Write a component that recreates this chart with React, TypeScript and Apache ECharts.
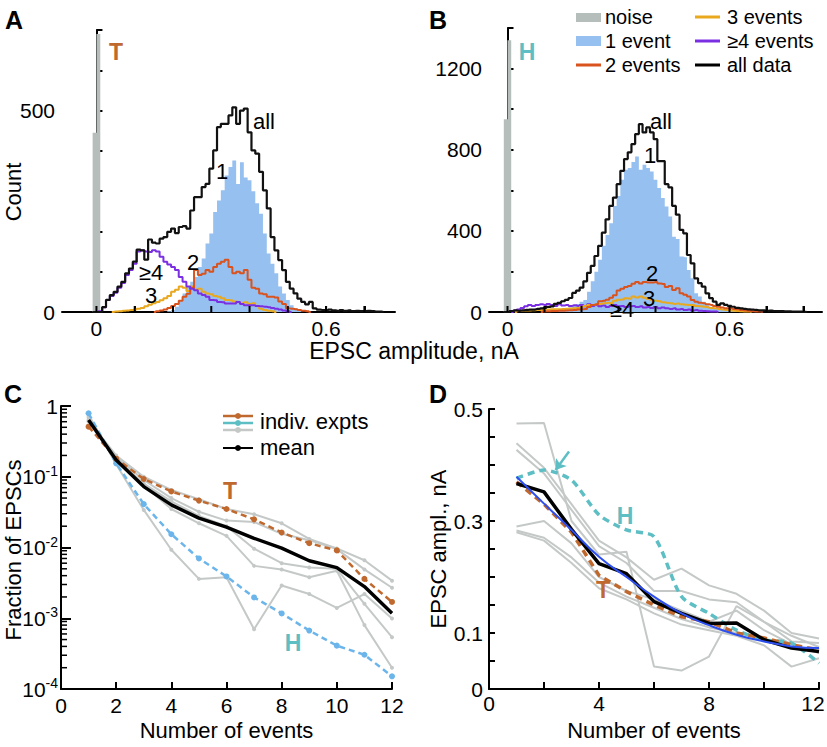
import React, { useEffect, useRef } from "react";
import * as echarts from "echarts";

const FONT = '"Liberation Sans", Arial, Helvetica, sans-serif';
const BIN = 0.01;

// ---------- Panel A (T) histograms: counts per 0.01 nA bin, first bin index = start ----------
const aNoiseCentres = [-0.005, 0.005];
const aNoiseCounts = [445, 690];
const aAllStart = 0;
const aAllCounts = [0, 0, 12, 30, 42, 50, 63, 75, 96, 108, 125, 155, 153, 130, 180, 172, 170, 182, 186, 199, 207, 196, 211, 213, 207, 252, 285, 285, 310, 318, 356, 401, 459, 467, 467, 488, 508, 467, 500, 505, 446, 401, 393, 348, 302, 257, 186, 153, 129, 104, 75, 58, 46, 33, 25, 19, 25, 9, 6, 5, 4, 6, 4, 3, 5, 3, 4, 2, 3, 2, 2, 3, 2, 1, 1];
const aOneStart = 19;
const aOneCounts = [2, 5, 13, 30, 46, 63, 75, 87, 112, 133, 170, 195, 248, 277, 302, 339, 360, 376, 318, 372, 334, 327, 300, 270, 244, 195, 145, 120, 96, 63, 46, 30, 17, 9, 4];
const aTwoStart = 16;
const aTwoCounts = [2, 4, 6, 10, 15, 20, 28, 38, 45, 60, 104, 92, 95, 104, 100, 112, 120, 125, 130, 112, 96, 100, 96, 104, 80, 60, 58, 46, 44, 38, 38, 36, 26, 20, 9, 8, 7, 5, 3, 2];
const aThreeStart = 5;
const aThreeCounts = [1, 2, 3, 4, 5, 6, 8, 10, 14, 18, 22, 25, 29, 34, 40, 50, 55, 63, 60, 52, 63, 56, 58, 50, 46, 44, 40, 38, 34, 30, 29, 26, 25, 22, 24, 20, 22, 15, 8, 5, 3, 2];
const aFourStart = 1;
const aFourCounts = [2, 12, 30, 40, 48, 60, 72, 92, 104, 120, 150, 153, 150, 149, 153, 150, 137, 125, 118, 112, 104, 87, 75, 63, 58, 54, 46, 42, 38, 30, 29, 25, 24, 21, 21, 21, 25, 20, 17, 17, 17, 15, 14, 13, 12, 10, 8, 6, 4, 2];

// ---------- Panel B (H) ----------
const bNoiseCentres = [-0.005, 0.005];
const bNoiseCounts = [950, 1340];
const bAllStart = 0;
const bAllCounts = [0, 5, 8, 6, 8, 10, 12, 12, 15, 18, 20, 25, 28, 40, 45, 53, 60, 69, 94, 105, 120, 151, 193, 227, 276, 326, 391, 457, 523, 564, 630, 696, 754, 787, 828, 877, 926, 885, 910, 885, 852, 744, 744, 630, 614, 523, 480, 405, 388, 281, 240, 166, 142, 125, 92, 68, 51, 35, 43, 35, 30, 26, 20, 18, 15, 13, 12, 10, 8, 8, 6, 7, 5, 4, 4, 3, 3, 2, 2, 2, 1];
const bOneStart = 10;
const bOneCounts = [2, 3, 4, 5, 8, 10, 15, 22, 30, 40, 50, 59, 100, 151, 198, 257, 326, 380, 437, 523, 572, 652, 701, 710, 740, 767, 701, 726, 710, 693, 652, 611, 562, 520, 471, 371, 360, 273, 270, 207, 166, 92, 76, 51, 35, 26, 20, 15, 12, 10, 8, 6, 4, 3, 2];
const bTwoStart = 10;
const bTwoCounts = [4, 4, 5, 5, 6, 6, 8, 9, 10, 12, 13, 15, 25, 35, 38, 53, 55, 60, 70, 82, 106, 115, 123, 128, 139, 148, 140, 148, 145, 145, 148, 140, 138, 123, 128, 109, 117, 92, 85, 76, 59, 51, 45, 43, 38, 35, 30, 26, 22, 18, 18, 15, 13, 10, 8, 6, 4, 3, 2];
const bThreeStart = 3;
const bThreeCounts = [5, 6, 7, 8, 9, 10, 10, 12, 12, 13, 13, 14, 15, 16, 17, 18, 20, 25, 30, 35, 35, 38, 40, 43, 45, 43, 55, 60, 62, 68, 65, 76, 72, 76, 70, 65, 60, 55, 53, 48, 45, 43, 40, 42, 38, 36, 35, 35, 30, 28, 26, 24, 20, 18, 15, 12, 10, 8, 6, 5, 4, 3, 2];
const bFourStart = 2;
const bFourCounts = [8, 12, 20, 28, 35, 30, 35, 38, 35, 40, 35, 30, 38, 32, 35, 30, 33, 30, 35, 28, 38, 30, 35, 28, 32, 25, 30, 35, 28, 30, 25, 28, 30, 25, 28, 22, 25, 20, 25, 18, 22, 18, 15, 18, 12, 15, 10, 12, 8, 10, 6, 5, 4, 3, 2];

// Axis ticks / labels for A and B
const aTickValues = [0, 0.1, 0.2, 0.3, 0.4, 0.5, 0.6, 0.7];
const bTickValues = [0, 0.1, 0.2, 0.3, 0.4, 0.5, 0.6, 0.7, 0.8];
const abLabelValues = [0, 0.6];
const aYLabels = [0, 500];
const bYLabels = [0, 400, 800, 1200];

// ---------- Panel C: fraction of EPSCs vs number of events ----------
const events = [1, 2, 3, 4, 5, 6, 7, 8, 9, 10, 11, 12];
const cT = [0.51, 0.18, 0.093, 0.062, 0.046, 0.035, 0.025, 0.0163, 0.0115, 0.0091, 0.0036, 0.0017];
const cH = [0.79, 0.155, 0.041, 0.0154, 0.007, 0.0039, 0.00197, 0.00117, 0.00067, 0.00041, 0.000305, 0.000151];
const cMean = [0.634, 0.173, 0.0726, 0.04, 0.026, 0.0194, 0.0135, 0.0098, 0.0065, 0.0052, 0.0028, 0.00118];
const cGray1 = [0.62, 0.2, 0.1, 0.065, 0.048, 0.035, 0.0296, 0.022, 0.0132, 0.0097, 0.0066, 0.0034];
const cGray2 = [0.6, 0.19, 0.09, 0.05, 0.032, 0.024, 0.023, 0.0156, 0.0127, 0.0095, 0.0049, 0.0027];
const cGray3 = [0.65, 0.18, 0.08, 0.045, 0.028, 0.02, 0.0096, 0.006, 0.0052, 0.005, 0.0016, 0.00054];
const cGray4 = [0.7, 0.17, 0.075, 0.035, 0.022, 0.0146, 0.0055, 0.0049, 0.0038, 0.0047, 0.0008, 0.0002];
const cGray5 = [0.75, 0.15, 0.034, 0.0093, 0.0036, 0.0038, 0.0007, 0.0029, 0.0022, 0.0014, 0.0022, 0.00099];
const cMinorMantissas = [2, 3, 4, 5, 6, 7, 8, 9];
const cDecades = [-4, -3, -2, -1];

// ---------- Panel D: EPSC amplitude vs number of events ----------
const dT = [0.37, 0.33, 0.28, 0.203, 0.174, 0.15, 0.129, 0.12, 0.1, 0.091, 0.079, 0.07];
const dH = [0.376, 0.391, 0.373, 0.311, 0.284, 0.272, 0.165, 0.135, 0.105, 0.088, 0.082, 0.046];
const dMean = [0.367, 0.352, 0.285, 0.224, 0.206, 0.156, 0.135, 0.117, 0.118, 0.088, 0.073, 0.067];
const dFit = [0.379, 0.331, 0.284, 0.236, 0.2, 0.165, 0.135, 0.114, 0.097, 0.085, 0.076, 0.073];
const dGray1 = [0.474, 0.475, 0.3, 0.24, 0.245, 0.04, 0.033, 0.058, 0.148, 0.12, 0.085, 0.082];
const dGray2 = [0.439, 0.395, 0.33, 0.265, 0.235, 0.195, 0.215, 0.185, 0.17, 0.14, 0.1, 0.09];
const dGray3 = [0.427, 0.385, 0.32, 0.255, 0.225, 0.175, 0.175, 0.16, 0.155, 0.12, 0.095, 0.075];
const dGray4 = [0.29, 0.3, 0.26, 0.2, 0.175, 0.16, 0.14, 0.12, 0.14, 0.105, 0.08, 0.064];
const dGray5 = [0.283, 0.27, 0.235, 0.19, 0.165, 0.145, 0.125, 0.11, 0.1, 0.09, 0.075, 0.065];
const dGray6 = [0.28, 0.265, 0.225, 0.18, 0.16, 0.135, 0.115, 0.105, 0.095, 0.078, 0.04, 0.055];
const dArrow = [[2.91, 0.424], [2.42, 0.391]];
const dYLabels = [0, 0.1, 0.3, 0.5];

const C_GRAY_NOISE = "#b6bebb";
const C_ONE = "#96c0f0";
const C_TWO = "#d9531e";
const C_THREE = "#e9a81e";
const C_FOUR = "#7a2fe3";
const C_T = "#c0692f";
const C_H = "#5dbec4";
const C_HLINE = "#6bb5ea";
const C_GRAY = "#c4c9c7";
const C_FIT = "#2d4ff0";

function histData(start: number, counts: number[]) {
  const d: number[][] = [[+((start - 1) * BIN).toFixed(3), 0]];
  counts.forEach((c, i) => d.push([+((start + i) * BIN).toFixed(3), c]));
  d.push([+((start + counts.length) * BIN).toFixed(3), 0]);
  return d;
}
function noiseData(centres: number[], counts: number[]) {
  const d: number[][] = [[centres[0] - BIN, 0]];
  centres.forEach((c, i) => d.push([c, counts[i]]));
  d.push([centres[centres.length - 1] + BIN, 0]);
  return d;
}
const pair = (ys: number[]) => events.map((x, i) => [x, ys[i]]);

const axisLine = { lineStyle: { color: "#000", width: 2 } };
const tickStyle = { inside: true, length: 6, lineStyle: { color: "#000", width: 2 } };
const labelBase = { color: "#000", fontSize: 21, fontFamily: FONT };
const nameStyle = { color: "#000", fontSize: 22, fontFamily: FONT };
const near = (v: number, list: number[]) => list.some((t) => Math.abs(v - t) < 1e-6);

function stepLine(ax: number, data: number[][], color: string, width: number, z: number) {
  return {
    type: "line", xAxisIndex: ax, yAxisIndex: ax, data, step: "middle", symbol: "none",
    lineStyle: { color, width }, itemStyle: { color }, z, silent: true,
  };
}
function stepFill(ax: number, data: number[][], color: string, z: number) {
  return {
    type: "line", xAxisIndex: ax, yAxisIndex: ax, data, step: "middle", symbol: "none",
    lineStyle: { width: 0, color }, itemStyle: { color }, areaStyle: { color, opacity: 1 }, z, silent: true,
  };
}
// inside ticks drawn through the axis scale (x axis: upward; y axis: rightward)
function tickSeries(ax: number, points: number[][], dx: number, dy: number, width: number) {
  return {
    type: "custom", xAxisIndex: ax, yAxisIndex: ax, data: points, silent: true, clip: false, z: 10,
    renderItem: (_p: any, api: any) => {
      const pt = api.coord([api.value(0), api.value(1)]);
      return { type: "line", shape: { x1: pt[0], y1: pt[1], x2: pt[0] + dx, y2: pt[1] + dy }, style: { stroke: "#000", lineWidth: width } };
    },
  };
}

function txt(text: string, x: number, y: number, size: number, bold = false, fill = "#000", align = "center") {
  return {
    type: "text", z: 100,
    style: {
      text, x, y, font: `${bold ? "bold " : ""}${size}px ${FONT}`, lineHeight: size,
      fill, textAlign: align, textVerticalAlign: "middle",
    },
  };
}
function vtxt(text: string, cx: number, cy: number, size: number) {
  return {
    type: "text", x: cx, y: cy, rotation: Math.PI / 2, z: 100,
    style: { text, x: 0, y: 0, font: `${size}px ${FONT}`, lineHeight: size, fill: "#000", textAlign: "center", textVerticalAlign: "middle" },
  };
}

export default function App() {
  const ref = useRef<HTMLDivElement>(null);
  useEffect(() => {
    if (!ref.current) return;
    const chart = echarts.init(ref.current, undefined, { renderer: "svg" });

    const cMinor: number[][] = [];
    cDecades.forEach((d) => cMinorMantissas.forEach((m) => cMinor.push([0, m * Math.pow(10, d)])));

    const grayC = [cGray1, cGray2, cGray3, cGray4, cGray5].map((g) => ({
      type: "line", xAxisIndex: 2, yAxisIndex: 2, data: pair(g), symbol: "circle", symbolSize: 4,
      lineStyle: { color: C_GRAY, width: 2 }, itemStyle: { color: C_GRAY }, z: 2, silent: true,
    }));
    const grayD = [dGray1, dGray2, dGray3, dGray4, dGray5, dGray6].map((g) => ({
      type: "line", xAxisIndex: 3, yAxisIndex: 3, data: pair(g), symbol: "none",
      lineStyle: { color: C_GRAY, width: 2 }, itemStyle: { color: C_GRAY }, z: 2, silent: true,
    }));

    const gridBase = { outerBoundsMode: "none", containLabel: false };
    const labelFmt = (v: number) => (v === 0 ? "0" : v.toFixed(1));
    const lgFont = 20;
    const rows = [17, 41, 65];

    const option: any = {
      animation: false,
      grid: [
        { ...gridBase, left: 62, top: 30, width: 333, height: 282 },
        { ...gridBase, left: 489, top: 28, width: 333, height: 284 },
        { ...gridBase, left: 61, top: 406, width: 331, height: 283 },
        { ...gridBase, left: 489, top: 409, width: 330, height: 280 },
      ],
      xAxis: [
        {
          gridIndex: 0, type: "value", min: -0.09, max: 0.78, axisLine, splitLine: { show: false },
          axisTick: { ...tickStyle, customValues: aTickValues },
          axisLabel: { ...labelBase, margin: 6, customValues: abLabelValues, formatter: labelFmt },
        },
        {
          gridIndex: 1, type: "value", min: -0.05, max: 0.85, axisLine, splitLine: { show: false },
          axisTick: { ...tickStyle, customValues: bTickValues },
          axisLabel: { ...labelBase, margin: 6, customValues: abLabelValues, formatter: labelFmt },
        },
        {
          gridIndex: 2, type: "value", min: 0, max: 12, interval: 2, axisLine, splitLine: { show: false },
          axisTick: { ...tickStyle, length: 7 }, axisLabel: { ...labelBase, margin: 6 },
          name: "Number of events", nameLocation: "middle", nameGap: 30, nameTextStyle: nameStyle,
        },
        {
          gridIndex: 3, type: "value", min: 0, max: 12, interval: 2, axisLine, splitLine: { show: false },
          axisTick: { ...tickStyle, length: 7 },
          axisLabel: {
            ...labelBase, margin: 4,
            formatter: (v: number) => (v % 4 === 0 ? (v === 12 ? "{r|12}" : String(v)) : ""),
            rich: { r: { fontSize: 21, fontFamily: FONT, color: "#000", padding: [0, 12, 0, 0] } },
          },
          name: "Number of events", nameLocation: "middle", nameGap: 30, nameTextStyle: nameStyle,
        },
      ],
      yAxis: [
        {
          gridIndex: 0, type: "value", min: 0, max: 700, interval: 100, axisLine, splitLine: { show: false },
          axisTick: tickStyle,
          axisLabel: { ...labelBase, margin: 7, formatter: (v: number) => (near(v, aYLabels) ? String(v) : "") },
        },
        {
          gridIndex: 1, type: "value", min: 0, max: 1400, interval: 200, axisLine, splitLine: { show: false },
          axisTick: tickStyle,
          axisLabel: { ...labelBase, margin: 7, formatter: (v: number) => (near(v, bYLabels) ? String(v) : "") },
        },
        {
          gridIndex: 2, type: "log", logBase: 10, min: 0.0001, max: 1, axisLine, splitLine: { show: false },
          axisTick: { ...tickStyle, length: 10 },
          axisLabel: {
            ...labelBase, margin: 3,
            formatter: (v: number) => {
              const e = Math.round(Math.log10(v));
              return e === 0 ? "{b|1}" : `{b|10}{s|${e}}`;
            },
            rich: {
              b: { fontSize: 21, fontFamily: FONT, color: "#000", lineHeight: 26 },
              s: { fontSize: 14, fontFamily: FONT, color: "#000", verticalAlign: "top", lineHeight: 14 },
            },
          },
        },
        {
          gridIndex: 3, type: "value", min: 0, max: 0.5, interval: 0.05, axisLine, splitLine: { show: false },
          axisTick: tickStyle,
          axisLabel: { ...labelBase, margin: 6, formatter: (v: number) => (near(v, dYLabels) ? (v === 0 ? "0" : v.toFixed(1)) : "") },
          name: "EPSC ampl., nA", nameLocation: "middle", nameGap: 40, nameTextStyle: nameStyle,
        },
      ],
      series: [
        // Panel A
        stepFill(0, noiseData(aNoiseCentres, aNoiseCounts), C_GRAY_NOISE, 2),
        stepFill(0, histData(aOneStart, aOneCounts), C_ONE, 3),
        stepLine(0, histData(aThreeStart, aThreeCounts), C_THREE, 2, 4),
        stepLine(0, histData(aTwoStart, aTwoCounts), C_TWO, 2, 5),
        stepLine(0, histData(aFourStart, aFourCounts), C_FOUR, 2, 6),
        stepLine(0, histData(aAllStart, aAllCounts), "#111", 2.2, 7),
        tickSeries(0, aTickValues.map((v) => [v, 0]), 0, -6, 2),
        // Panel B
        stepFill(1, noiseData(bNoiseCentres, bNoiseCounts), C_GRAY_NOISE, 2),
        stepFill(1, histData(bOneStart, bOneCounts), C_ONE, 3),
        stepLine(1, histData(bFourStart, bFourCounts), C_FOUR, 2, 4),
        stepLine(1, histData(bThreeStart, bThreeCounts), C_THREE, 2, 5),
        stepLine(1, histData(bTwoStart, bTwoCounts), C_TWO, 2, 6),
        stepLine(1, histData(bAllStart, bAllCounts), "#111", 2.2, 7),
        tickSeries(1, bTickValues.map((v) => [v, 0]), 0, -6, 2),
        // Panel C
        tickSeries(2, cMinor, 6, 0, 1.5),
        ...grayC,
        {
          type: "line", xAxisIndex: 2, yAxisIndex: 2, data: pair(cH), symbol: "circle", symbolSize: 6,
          lineStyle: { color: C_HLINE, width: 2.5, type: [6, 4] }, itemStyle: { color: C_HLINE }, z: 3, silent: true,
        },
        {
          type: "line", xAxisIndex: 2, yAxisIndex: 2, data: pair(cT), symbol: "circle", symbolSize: 6,
          lineStyle: { color: C_T, width: 2.5, type: [6, 4] }, itemStyle: { color: C_T }, z: 4, silent: true,
        },
        {
          type: "line", xAxisIndex: 2, yAxisIndex: 2, data: pair(cMean), symbol: "none",
          lineStyle: { color: "#000", width: 3.5 }, itemStyle: { color: "#000" }, z: 5, silent: true,
        },
        // Panel D
        ...grayD,
        {
          type: "line", xAxisIndex: 3, yAxisIndex: 3, data: pair(dH), symbol: "none", smooth: 0.25,
          lineStyle: { color: C_H, width: 3.5, type: [7, 5] }, itemStyle: { color: C_H }, z: 3, silent: true,
          markLine: {
            silent: true, symbol: ["none", "arrow"], symbolSize: 10, label: { show: false },
            lineStyle: { color: C_H, width: 2.5, type: "solid" },
            data: [[{ coord: dArrow[0] }, { coord: dArrow[1] }]],
          },
        },
        {
          type: "line", xAxisIndex: 3, yAxisIndex: 3, data: pair(dT), symbol: "none",
          lineStyle: { color: C_T, width: 3.5, type: [7, 5] }, itemStyle: { color: C_T }, z: 4, silent: true,
        },
        {
          type: "line", xAxisIndex: 3, yAxisIndex: 3, data: pair(dMean), symbol: "none",
          lineStyle: { color: "#000", width: 3.5 }, itemStyle: { color: "#000" }, z: 5, silent: true,
        },
        {
          type: "line", xAxisIndex: 3, yAxisIndex: 3, data: pair(dFit), symbol: "none", smooth: true,
          lineStyle: { color: C_FIT, width: 2 }, itemStyle: { color: C_FIT }, z: 6, silent: true,
        },
      ],
      graphic: [
        // panel letters
        txt("A", 14, 20, 25, true),
        txt("B", 438, 20, 25, true),
        txt("C", 13, 394, 25, true),
        txt("D", 438, 394, 25, true),
        // axis names
        vtxt("Count", 13, 192, 22),
        vtxt("Fraction of EPSCs", 13, 550, 22),
        txt("EPSC amplitude, nA", 414, 351, 23),
        // Panel A annotations
        txt("T", 116, 52, 23, true, C_T),
        txt("all", 264, 121, 22),
        txt("1", 222, 171, 22),
        txt("≥4", 151, 272, 22),
        txt("2", 193, 262, 22),
        txt("3", 151, 295, 22),
        // Panel B annotations
        txt("H", 527, 52, 23, true, C_H),
        txt("all", 661, 121, 22),
        txt("1", 650, 155, 22),
        txt("2", 652, 273, 22),
        txt("3", 649, 298, 22),
        txt("≥4", 622, 309, 22),
        // Panel B legend
        { type: "rect", shape: { x: 576, y: rows[0] - 4, width: 25, height: 9 }, style: { fill: C_GRAY_NOISE } },
        { type: "rect", shape: { x: 576, y: rows[1] - 5, width: 25, height: 10 }, style: { fill: C_ONE } },
        { type: "line", shape: { x1: 576, y1: rows[2], x2: 601, y2: rows[2] }, style: { stroke: C_TWO, lineWidth: 3 } },
        { type: "line", shape: { x1: 695, y1: rows[0], x2: 720, y2: rows[0] }, style: { stroke: C_THREE, lineWidth: 3 } },
        { type: "line", shape: { x1: 695, y1: rows[1], x2: 720, y2: rows[1] }, style: { stroke: C_FOUR, lineWidth: 3 } },
        { type: "line", shape: { x1: 695, y1: rows[2], x2: 720, y2: rows[2] }, style: { stroke: "#000", lineWidth: 3 } },
        txt("noise", 605, rows[0], lgFont, false, "#000", "left"),
        txt("1 event", 605, rows[1], lgFont, false, "#000", "left"),
        txt("2 events", 605, rows[2], lgFont, false, "#000", "left"),
        txt("3 events", 727, rows[0], lgFont, false, "#000", "left"),
        txt("≥4 events", 727, rows[1], lgFont, false, "#000", "left"),
        txt("all data", 727, rows[2], lgFont, false, "#000", "left"),
        // Panel C legend
        { type: "line", shape: { x1: 223, y1: 416, x2: 253, y2: 416 }, style: { stroke: C_T, lineWidth: 2.5 } },
        { type: "circle", shape: { cx: 238, cy: 416, r: 3 }, style: { fill: C_T } },
        { type: "line", shape: { x1: 223, y1: 423, x2: 253, y2: 423 }, style: { stroke: C_H, lineWidth: 2.5 } },
        { type: "circle", shape: { cx: 238, cy: 423, r: 3 }, style: { fill: C_H } },
        { type: "line", shape: { x1: 223, y1: 430, x2: 253, y2: 430 }, style: { stroke: C_GRAY, lineWidth: 2.5 } },
        { type: "circle", shape: { cx: 238, cy: 430, r: 3 }, style: { fill: C_GRAY } },
        { type: "line", shape: { x1: 223, y1: 448, x2: 253, y2: 448 }, style: { stroke: "#000", lineWidth: 2 } },
        { type: "circle", shape: { cx: 238, cy: 448, r: 3 }, style: { fill: "#000" } },
        txt("indiv. expts", 260, 421, 22, false, "#000", "left"),
        txt("mean", 260, 447, 22, false, "#000", "left"),
        txt("T", 230, 491, 23, true, C_T),
        txt("H", 293, 643, 23, true, C_H),
        // Panel D annotations
        txt("H", 625, 516, 23, true, C_H),
        txt("T", 603, 590, 23, true, C_T),
      ],
    };
    chart.setOption(option);
    return () => chart.dispose();
  }, []);
  return <div ref={ref} style={{ position: "absolute", left: 0, top: 0, width: 827, height: 747, background: "#fff" }} />;
}
